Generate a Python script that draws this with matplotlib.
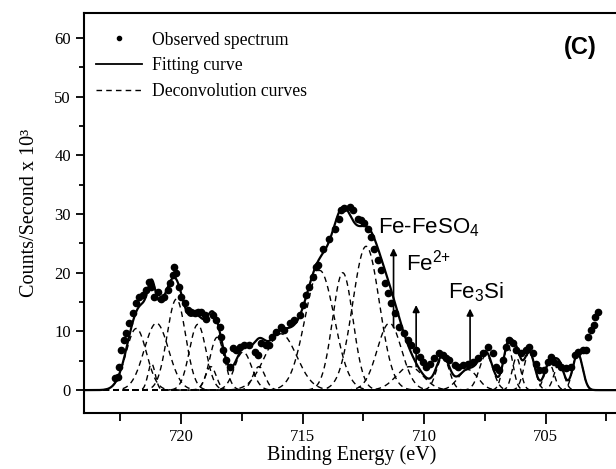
import numpy as np
import matplotlib
matplotlib.use("Agg")
import matplotlib.pyplot as plt

plt.rcParams['font.family'] = 'Liberation Serif'
plt.rcParams['mathtext.fontset'] = 'custom'
plt.rcParams['mathtext.rm'] = 'Liberation Sans'
plt.rcParams['mathtext.it'] = 'Liberation Sans:italic'
plt.rcParams['mathtext.bf'] = 'Liberation Sans:bold'

# observed spectrum (binding energy in eV, counts/s x 10^3)
obs_x = [722.74, 722.60, 722.54, 722.47, 722.37, 722.26, 722.13, 721.99, 721.88, 721.72,
         721.58, 721.44, 721.33, 721.23, 721.10, 720.96, 720.82, 720.69, 720.55, 720.48,
         720.35, 720.28, 720.21, 720.10, 720.00, 719.86, 719.73, 719.59, 719.45, 719.32,
         719.18, 719.04, 718.97, 718.70, 718.56, 718.42, 718.35, 718.29, 718.15, 718.01,
         717.88, 717.74, 717.60, 717.40, 717.19, 716.98, 716.85, 716.71, 716.50, 716.37,
         716.26, 716.09, 715.88, 715.75, 715.54, 715.34, 715.13, 715.00, 714.86, 714.72,
         714.58, 714.44, 714.38, 714.17, 713.90, 713.69, 713.49, 713.42, 713.28, 713.07,
         712.94, 712.73, 712.59, 712.46, 712.32, 712.18, 712.05, 711.91, 711.77, 711.63,
         711.50, 711.36, 711.22, 711.02, 710.81, 710.67, 710.53, 710.33, 710.19, 710.06,
         709.92, 709.78, 709.58, 709.37, 709.23, 709.10, 708.96, 708.75, 708.62, 708.41,
         708.21, 708.00, 707.79, 707.59, 707.38, 707.18, 707.04, 706.90, 706.77, 706.63,
         706.49, 706.35, 706.21, 706.00, 705.80, 705.67, 705.53, 705.39, 705.26, 705.05,
         704.91, 704.77, 704.64, 704.50, 704.36, 704.16, 703.95, 703.81, 703.68, 703.47,
         703.33, 703.27, 703.13, 703.03, 702.95, 702.86]
obs_y = [2.0, 2.3, 4.0, 6.8, 8.5, 9.7, 11.4, 13.1, 14.8, 15.9,
         16.2, 17.0, 18.5, 17.6, 15.9, 16.7, 15.6, 15.9, 17.0, 18.2,
         19.6, 21.0, 19.9, 17.6, 15.9, 14.8, 13.6, 13.3, 13.1, 13.3,
         13.3, 12.8, 12.2, 12.8, 11.9, 10.8, 9.1, 6.8, 5.1, 4.0,
         7.1, 6.8, 7.4, 7.7, 7.7, 6.5, 6.0, 8.0, 7.7, 7.7,
         9.1, 9.9, 10.8, 10.2, 11.4, 11.9, 12.8, 14.5, 16.2, 17.6,
         19.3, 21.0, 21.3, 24.1, 25.8, 27.5, 29.2, 30.7, 31.0, 31.2,
         30.7, 29.2, 29.0, 28.4, 27.5, 26.1, 24.1, 22.1, 20.4, 18.2,
         16.5, 14.8, 13.1, 10.8, 9.7, 8.5, 7.7, 6.8, 5.7, 4.8,
         4.0, 4.5, 5.4, 6.3, 6.0, 5.4, 5.1, 4.3, 4.0, 4.3,
         4.5, 4.8, 5.4, 6.3, 7.4, 6.3, 4.0, 3.4, 5.1, 7.4,
         8.5, 8.0, 6.8, 6.3, 6.8, 7.4, 6.3, 4.5, 3.4, 3.4,
         4.8, 5.7, 4.8, 4.5, 4.0, 3.7, 4.0, 6.0, 6.5, 6.8,
         6.8, 9.1, 10.2, 11.1, 12.5, 13.3]

# deconvolution components: centre (eV), height, sigma (eV)
peak_center = [721.85, 721.02, 721.22, 720.20, 719.32, 718.78, 718.52, 717.45, 716.80,
               715.90, 714.30, 713.35, 712.39, 711.43, 710.60, 709.23, 708.20, 707.45,
               706.55, 706.20, 705.67, 704.85, 704.45, 703.68]
peak_height = [10.5, 11.4, 4.5, 15.5, 11.2, 4.0, 9.0, 6.5, 4.0,
               9.6, 20.4, 20.0, 24.5, 11.4, 4.0, 5.7, 3.5, 6.0,
               7.5, 5.5, 6.5, 4.5, 4.5, 6.3]
peak_sigma = [0.42, 0.50, 0.15, 0.38, 0.34, 0.22, 0.30, 0.35, 0.25,
              0.65, 0.60, 0.42, 0.55, 0.50, 0.55, 0.26, 0.40, 0.28,
              0.20, 0.18, 0.22, 0.20, 0.20, 0.20]

xs = np.linspace(724, 702, 2000)
comps = [h * np.exp(-(xs - c) ** 2 / (2 * s ** 2))
         for c, h, s in zip(peak_center, peak_height, peak_sigma)]
fit = np.sum(comps, axis=0)

fig = plt.figure(figsize=(6.16, 4.69), dpi=100)
ax = fig.add_axes([0.1364, 0.1194, 0.8677, 0.8522])

for comp in comps:
    ax.plot(xs, comp, color='black', lw=1.0, ls=(0, (4, 3)))
ax.plot(xs, fit, color='black', lw=1.6)
ax.plot(obs_x, obs_y, 'o', color='black', ms=4.5, mec='black')

# legend handles
ax.plot([], [], 'o', color='black', ms=3, label='Observed spectrum')
ax.plot([], [], color='black', lw=1.3, label='Fitting curve')
ax.plot([], [], color='black', lw=1.0, ls=(0, (4, 3)), label='Deconvolution curves')
h, l = ax.get_legend_handles_labels()
ax.legend(h[-3:], l[-3:], loc='upper left', frameon=False, fontsize=12.7,
          handlelength=2.6, handletextpad=0.55, labelspacing=0.5,
          borderaxespad=0.3, bbox_to_anchor=(0.0, 0.985))

# peak annotations
arrow_x = [711.26, 710.33, 708.11]
arrow_lo = [10.7, 4.0, 4.3]
arrow_hi = [24.2, 14.5, 13.9]
for xa, y0, y1 in zip(arrow_x, arrow_lo, arrow_hi):
    ax.annotate('', xy=(xa, y1), xytext=(xa, y0),
                arrowprops=dict(arrowstyle='-|>', color='black', lw=1.2,
                                mutation_scale=10, shrinkA=0, shrinkB=0))
ax.text(711.92, 27.6, 'Fe-FeSO$_4$', family='Liberation Sans', fontsize=16,
        va='center', ha='left')
ax.text(710.74, 21.8, 'Fe$^{2{+}}$', family='Liberation Sans', fontsize=16,
        va='center', ha='left')
ax.text(709.03, 16.6, 'Fe$_3$Si', family='Liberation Sans', fontsize=16,
        va='center', ha='left')
ax.text(704.23, 58.3, '(C)', family='Liberation Sans', fontsize=17,
        fontweight='bold', va='center', ha='left')

ax.set_xlim(724, 702)
ax.set_ylim(-3.9, 64.2)
ax.set_xticks([720, 715, 710, 705])
ax.set_xticks([722.5, 717.5, 712.5, 707.5, 702.5], minor=True)
ax.set_yticks([0, 10, 20, 30, 40, 50, 60])
ax.set_yticks([5, 15, 25, 35, 45, 55], minor=True)
ax.tick_params(axis='both', which='both', direction='out', width=1.3, labelsize=12)
ax.tick_params(axis='x', which='major', length=8)
ax.tick_params(axis='x', which='minor', length=6)
ax.tick_params(axis='y', which='major', length=6)
ax.tick_params(axis='y', which='minor', length=3.5)
for sp in ax.spines.values():
    sp.set_linewidth(1.5)

ax.set_xlabel('Binding Energy (eV)', fontsize=14.5, labelpad=0)
ax.set_ylabel('Counts/Second x 10³', fontsize=14.5, labelpad=11)

fig.savefig('out.png', dpi=100)
